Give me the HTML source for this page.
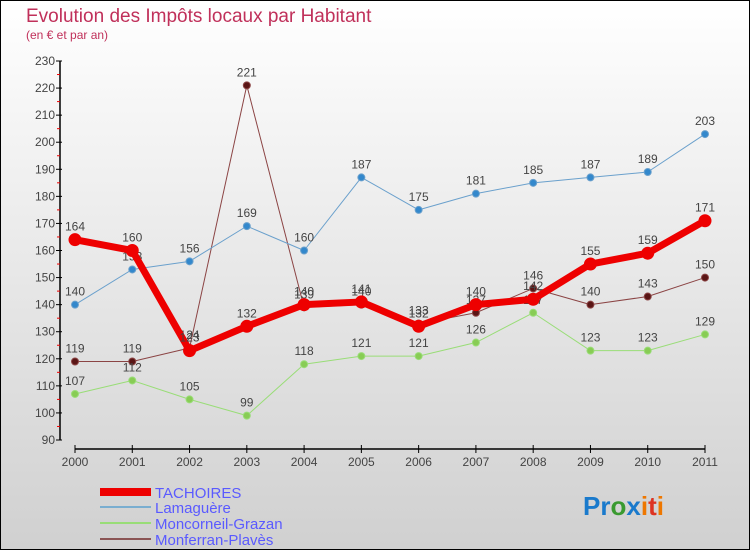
<!DOCTYPE html>
<html><head><meta charset="utf-8"><style>
body{margin:0;}
svg text{font-family:"Liberation Sans",sans-serif;}
</style></head><body>
<svg id="chart" width="750" height="550" xmlns="http://www.w3.org/2000/svg">
<defs><linearGradient id="bg" x1="0" y1="0" x2="0" y2="1"><stop offset="0" stop-color="#ffffff"/><stop offset="1" stop-color="#d0d0d0"/></linearGradient></defs>
<rect x="0.5" y="0.5" width="749" height="549" fill="url(#bg)" stroke="#000"/>
<text x="26" y="22" font-size="19" fill="#c0305a">Evolution des Impôts locaux par Habitant</text>
<text x="26" y="39" font-size="12" fill="#c0305a">(en € et par an)</text>
<g id="axes"></g>
<g id="series"></g>
<g id="legend">
<rect x="100" y="488" width="51" height="8" fill="#e00"/>
<text x="155" y="498" font-size="15" fill="#5a5aff">TACHOIRES</text>
<rect x="100" y="506" width="51" height="2" fill="#7aaed0"/>
<text x="155" y="513" font-size="15" fill="#5a5aff">Lamaguère</text>
<rect x="100" y="522" width="51" height="2" fill="#99dd77"/>
<text x="155" y="529" font-size="15" fill="#5a5aff">Moncorneil-Grazan</text>
<rect x="100" y="538" width="51" height="2" fill="#8b5555"/>
<text x="155" y="545" font-size="15" fill="#5a5aff">Monferran-Plavès</text>
</g>
<text x="583" y="515" font-size="26" font-weight="bold"><tspan fill="#1a7acc">Pr</tspan><tspan fill="#3a9a30">o</tspan><tspan fill="#1a7acc">x</tspan><tspan fill="#ee7700">i</tspan><tspan fill="#dd3322">t</tspan><tspan fill="#ee7700">i</tspan></text>
</svg>
<script>
const years=[2000,2001,2002,2003,2004,2005,2006,2007,2008,2009,2010,2011];
const yTicks=[90,100,110,120,130,140,150,160,170,180,190,200,210,220,230];
const tachoires=[164,160,123,132,140,141,132,140,142,155,159,171];
const lamaguere=[140,153,156,169,160,187,175,181,185,187,189,203];
const moncorneil=[107,112,105,99,118,121,121,126,137,123,123,129];
const monferran=[119,119,124,221,139,140,133,137,146,140,143,150];
const NS="http://www.w3.org/2000/svg";
const x=i=>75+i*(630/11);
const y=v=>440-(v-90)*(379/140);
function mk(t,a,p){const e=document.createElementNS(NS,t);for(const k in a)e.setAttribute(k,a[k]);p.appendChild(e);return e;}
const axes=document.getElementById('axes');
const ya=mk('line',{x1:60,y1:y(230),x2:60,y2:y(90),stroke:'#000','stroke-width':1.5},axes);


yTicks.forEach(v=>{
  mk('line',{x1:56,y1:y(v),x2:62,y2:y(v),stroke:'#000'},axes);
  if(v<230) mk('line',{x1:57,y1:y(v+5),x2:60,y2:y(v+5),stroke:'#e00'},axes);
  const t=mk('text',{x:55,y:y(v)+4,'font-size':12,fill:'#444','text-anchor':'end'},axes);
  
  
  t.textContent=v;
});
const xa=mk('line',{x1:x(0),y1:449,x2:x(11),y2:449,stroke:'#000','stroke-width':1.5},axes);


years.forEach((yr,i)=>{
  mk('line',{x1:x(i),y1:445,x2:x(i),y2:453,stroke:'#000'},axes);
  const t=mk('text',{x:x(i),y:466,'font-size':12,fill:'#444','text-anchor':'middle'},axes);
  
  
  t.textContent=yr;
});
const sg=document.getElementById('series');
function draw(name,vals,color,w,r,dot){
  const g=mk('g',{},sg);
  
  
  const pl=mk('polyline',{points:vals.map((v,i)=>x(i)+','+y(v)).join(' '),fill:'none',stroke:color,'stroke-width':w,'stroke-linejoin':'round'},g);
  
  
  vals.forEach((v,i)=>{
    const c=mk('circle',{cx:x(i),cy:y(v),r:r,fill:dot,stroke:color,'stroke-width':1},g);
    
    
    const t=mk('text',{x:x(i),y:y(v)-9,'font-size':12,fill:'#444','text-anchor':'middle'},g);
    
    
    t.textContent=v;
  });
}
draw('monferran',monferran,'#8b4444',1,3.5,'#5a1515');
draw('moncorneil',moncorneil,'#99dd77',1,3.5,'#88cc55');
draw('lamaguere',lamaguere,'#6aa0cc',1,3.5,'#3388cc');
draw('tachoires',tachoires,'#ee0000',7,6,'#ee0000');
</script>
</body></html>
